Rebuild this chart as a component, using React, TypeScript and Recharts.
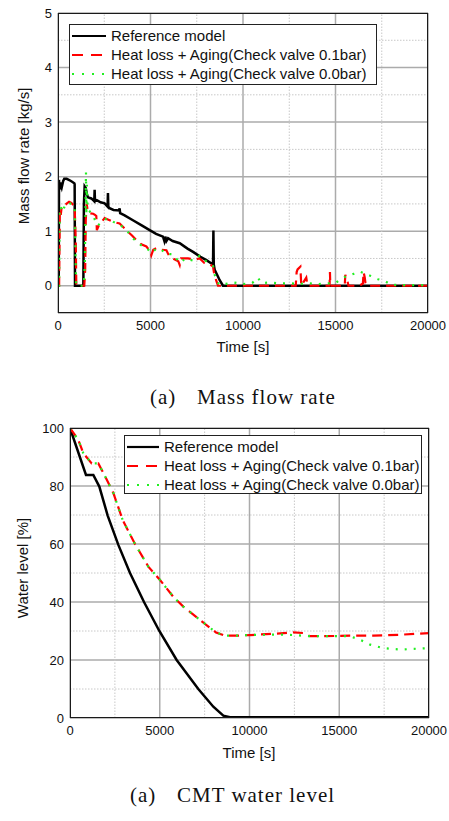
import React from "react";
import {
  LineChart,
  Line,
  XAxis,
  YAxis,
  CartesianGrid,
  ReferenceLine,
} from "recharts";

// ---- (a) Mass flow rate ----
const flowRefTime = [0, 40, 54, 80, 120, 200, 280, 340, 470, 700, 881, 900, 919, 1370, 1400, 1440, 1500, 1560, 1620, 1800, 1960, 1980, 2000, 2100, 2300, 2520, 2680, 2700, 2720, 2790, 3000, 3300, 3330, 3360, 3600, 4050, 4500, 4955, 5300, 5675, 5750, 5800, 5860, 5950, 6200, 6580, 7000, 7300, 7700, 8020, 8380, 8400, 8420, 8470, 8600, 8740, 8920, 20000];
const flowRefValue = [0, 0, 1.94, 1.76, 1.89, 1.8, 1.92, 1.96, 1.96, 1.92, 1.88, 1.86, 0, 0, 1.5, 1.82, 1.79, 1.68, 1.62, 1.6, 1.55, 1.76, 1.55, 1.57, 1.53, 1.51, 1.45, 1.7, 1.45, 1.42, 1.39, 1.38, 1.42, 1.33, 1.29, 1.2, 1.11, 1.02, 0.95, 0.9, 0.82, 0.9, 0.82, 0.87, 0.82, 0.78, 0.68, 0.62, 0.53, 0.47, 0.39, 1.01, 0.39, 0.29, 0.2, 0.1, 0, 0];

const flowCv01Time = [0, 60, 100, 150, 200, 300, 450, 600, 720, 850, 900, 960, 990, 1420, 1470, 1500, 1550, 1620, 1710, 1900, 2000, 2070, 2100, 2200, 2520, 2790, 3000, 3330, 3690, 4000, 4230, 4500, 4775, 5000, 5045, 5150, 5315, 5600, 5860, 6000, 6200, 6500, 6580, 6650, 7030, 7400, 7660, 7900, 8200, 8380, 8450, 8550, 8650, 12850, 12900, 12950, 13100, 13150, 13420, 13470, 13500, 14680, 14700, 14720, 15500, 15530, 15650, 15700, 16300, 16480, 16520, 16580, 16620, 16700, 20000];
const flowCv01Value = [0, 0, 1.4, 1.3, 1.45, 1.45, 1.5, 1.54, 1.52, 1.47, 1.45, 0.8, 0, 0, 0.3, 1.2, 1.5, 1.35, 1.33, 1.32, 1.3, 1.28, 1.02, 1.1, 1.24, 1.2, 1.17, 1.14, 1.02, 0.92, 0.84, 0.76, 0.72, 0.62, 0.56, 0.66, 0.69, 0.66, 0.65, 0.55, 0.5, 0.45, 0.38, 0.5, 0.5, 0.48, 0.5, 0.42, 0.4, 0.35, 0.2, 0.1, 0, 0, 0.25, 0.3, 0.35, 0, 0.15, 0.04, 0, 0, 0.25, 0, 0, 0.2, 0.08, 0, 0, 0.04, 0.25, 0.15, 0.05, 0, 0];

const flowCv00Time = [0, 60, 90, 150, 250, 400, 600, 800, 900, 980, 1400, 1450, 1513, 1530, 1560, 1600, 1700, 1900, 2070, 2150, 2520, 2790, 3000, 3330, 3690, 4000, 4230, 4500, 4775, 5045, 5315, 5600, 5860, 6200, 6580, 6900, 7300, 7660, 8000, 8380, 8450, 8550, 8700, 9000, 9500, 10000, 10500, 10800, 11000, 11500, 12000, 12500, 13000, 13500, 14000, 14500, 15000, 15400, 15700, 16000, 16300, 16600, 16900, 17300, 17700, 18000, 18500, 20000];
const flowCv00Value = [0, 0, 1.4, 1.45, 1.35, 1.5, 1.52, 1.48, 1.45, 0, 0, 0.4, 2.08, 1.3, 1.85, 1.4, 1.37, 1.28, 1.15, 1.1, 1.22, 1.22, 1.17, 1.12, 1.03, 0.88, 0.82, 0.74, 0.7, 0.6, 0.68, 0.66, 0.58, 0.58, 0.42, 0.5, 0.46, 0.55, 0.45, 0.36, 0.22, 0.12, 0.02, 0.03, 0.06, 0.03, 0.05, 0.15, 0.05, 0.06, 0.04, 0.05, 0.03, 0.05, 0.03, 0.04, 0.05, 0.15, 0.18, 0.22, 0.26, 0.22, 0.18, 0.12, 0.08, 0.02, 0.01, 0.01];

// ---- (a) CMT water level ----
const levelRefTime = [0, 891, 1300, 1634, 2099, 2693, 3343, 4123, 4977, 5942, 7148, 7985, 8542, 8913, 20000];
const levelRefValue = [100, 83.8, 83.8, 79.8, 69.8, 59.7, 50, 40, 30, 20, 10, 3.9, 0.8, 0.3, 0.3];

const levelCv01Time = [0, 464, 743, 1208, 1578, 1857, 2414, 2934, 3621, 4364, 5014, 5757, 6314, 7243, 8134, 8635, 9280, 10028, 11513, 12442, 13000, 13371, 14114, 15600, 16900, 18385, 20000];
const levelCv01Value = [100, 95.9, 91.3, 87.8, 87.8, 84.5, 77.6, 68.3, 60, 52.2, 47.6, 41.8, 38.4, 33.8, 29.5, 28.4, 28.4, 28.6, 29.1, 29.5, 29.3, 28.2, 28.2, 28.4, 28.4, 28.7, 29.3];

const levelCv00Time = [0, 464, 743, 1208, 1578, 1857, 2414, 2934, 3621, 4364, 5014, 5757, 6314, 7243, 8134, 8635, 9280, 10028, 11513, 12442, 13371, 14114, 15600, 16157, 16714, 17457, 18385, 20000];
const levelCv00Value = [100, 95.9, 91.3, 87.8, 87.8, 84.5, 77.6, 68.3, 60, 52.2, 47.6, 41.8, 38.4, 33.8, 29.5, 28.4, 28.4, 28.6, 28.8, 28.6, 28.2, 28.2, 28.2, 27, 25.3, 24.1, 23.6, 24.1];

const timeTicks = [0, 5000, 10000, 15000, 20000];
const timeMinor = [2500, 7500, 12500, 17500];
const flowTicks = [0, 1, 2, 3, 4, 5];
const flowMinor = [0.5, 1.5, 2.5, 3.5, 4.5];
const levelTicks = [0, 20, 40, 60, 80, 100];
const levelMinor = [10, 30, 50, 70, 90];

const seriesNames = [
  "Reference model",
  "Heat loss + Aging(Check valve 0.1bar)",
  "Heat loss + Aging(Check valve 0.0bar)",
];

const zip = (t: number[], v: number[]) => t.map((x, i) => ({ t: x, v: v[i] }));

const SANS = "'Liberation Sans', Arial, sans-serif";
const SERIF = "'Liberation Serif', 'Times New Roman', serif";
const RED = "#ff0000";
const GREEN = "#22ee22";

const styles = [
  { stroke: "#000000", dash: undefined as string | undefined, width: 2.5, legendDash: undefined as string | undefined },
  { stroke: RED, dash: "10 6", width: 2.2, legendDash: "11 8" },
  { stroke: GREEN, dash: "2 7", width: 2.2, legendDash: "2 8" },
];

const LegendBox: React.FC<{ left: number; top: number; width: number; height: number; sample: number }> = ({
  left,
  top,
  width,
  height,
  sample,
}) => (
  <div
    style={{
      position: "absolute",
      left,
      top,
      width,
      height,
      boxSizing: "border-box",
      border: "1px solid #222",
      background: "#fff",
      fontFamily: SANS,
      fontSize: 15,
      paddingTop: 1,
      color: "#111",
    }}
  >
    {seriesNames.map((name, i) => (
      <div key={name} style={{ display: "flex", alignItems: "center", height: 19, whiteSpace: "nowrap" }}>
        <svg width={sample + 8} height={10} style={{ marginLeft: 2 }}>
          <line
            x1={0}
            x2={sample}
            y1={5}
            y2={5}
            stroke={styles[i].stroke}
            strokeWidth={2.2}
            strokeDasharray={styles[i].legendDash}
          />
        </svg>
        <span style={{ marginLeft: -3 }}>{name}</span>
      </div>
    ))}
  </div>
);

interface PanelProps {
  top: number;
  height: number;
  plotLeft: number;
  plotTop: number;
  plotRight: number;
  plotBottom: number;
  yDomain: [number, number];
  yTicks: number[];
  yMinor: number[];
  series: { t: number; v: number }[][];
}

const Panel: React.FC<PanelProps> = ({ top, height, plotLeft, plotTop, plotRight, plotBottom, yDomain, yTicks, yMinor, series }) => (
  <div style={{ position: "absolute", left: 0, top }}>
    <LineChart width={449} height={height} margin={{ top: plotTop, right: plotRight, bottom: 0, left: 0 }}>
      <CartesianGrid stroke="#ababab" strokeWidth={1.5} />
      {timeMinor.map((x) => (
        <ReferenceLine key={"x" + x} x={x} stroke="#c8c8c8" strokeDasharray="1.5 1.5" />
      ))}
      {yMinor.map((y) => (
        <ReferenceLine key={"y" + y} y={y} stroke="#c8c8c8" strokeDasharray="1.5 1.5" />
      ))}
      <XAxis
        type="number"
        dataKey="t"
        domain={[0, 20000]}
        ticks={timeTicks}
        interval={0}
        height={plotBottom}
        tickLine={false}
        axisLine={false}
        allowDataOverflow
        tick={{ fontSize: 13, fill: "#111", fontFamily: SANS }}
      />
      <YAxis
        type="number"
        domain={yDomain}
        ticks={yTicks}
        interval={0}
        width={plotLeft}
        tickLine={false}
        axisLine={false}
        tickMargin={0}
        allowDataOverflow
        tick={{ fontSize: 13, fill: "#111", fontFamily: SANS }}
      />
      {series.map((d, i) => (
        <Line
          key={i}
          data={d}
          dataKey="v"
          type="linear"
          stroke={styles[i].stroke}
          strokeWidth={styles[i].width}
          strokeDasharray={styles[i].dash}
          dot={false}
          isAnimationActive={false}
        />
      ))}
    </LineChart>
    <div
      style={{
        position: "absolute",
        left: plotLeft,
        top: plotTop,
        width: 449 - plotLeft - plotRight,
        height: height - plotTop - plotBottom,
        boxSizing: "border-box",
        border: "1.5px solid #1a1a1a",
        pointerEvents: "none",
      }}
    />
  </div>
);

const Caption: React.FC<{ top: number; left: number; text: string }> = ({ top, left, text }) => (
  <div
    style={{
      position: "absolute",
      top,
      left: 0,
      width: 449,
      fontFamily: SERIF,
      fontSize: 21,
      letterSpacing: 1,
      whiteSpace: "nowrap",
      color: "#111",
    }}
  >
    <span style={{ position: "absolute", left }}>(a)</span>
    <span style={{ position: "absolute", left: left + 47 }}>{text}</span>
  </div>
);

const AxisTitle: React.FC<{ x: number; y: number; text: string; vertical?: boolean }> = ({ x, y, text, vertical }) => (
  <div
    style={{
      position: "absolute",
      left: x,
      top: y,
      fontFamily: SANS,
      fontSize: 15,
      whiteSpace: "nowrap",
      color: "#111",
      transform: vertical ? "translate(-50%, -50%) rotate(-90deg)" : "translate(-50%, -50%)",
    }}
  >
    {text}
  </div>
);

export default function App() {
  return (
    <div style={{ position: "absolute", left: 0, top: 0, width: 449, height: 821, background: "#fff", overflow: "hidden" }}>
      <Panel
        top={0}
        height={360}
        plotLeft={58}
        plotTop={13}
        plotRight={21}
        plotBottom={47}
        yDomain={[-0.5, 5]}
        yTicks={flowTicks}
        yMinor={flowMinor}
        series={[zip(flowRefTime, flowRefValue), zip(flowCv01Time, flowCv01Value), zip(flowCv00Time, flowCv00Value)]}
      />
      <LegendBox left={69} top={24} width={308} height={61} sample={34} />
      <AxisTitle x={23} y={156} text="Mass flow rate [kg/s]" vertical />
      <AxisTitle x={243} y={346} text="Time [s]" />
      <Caption top={385} left={150} text="Mass flow rate" />

      <Panel
        top={415}
        height={345}
        plotLeft={70}
        plotTop={13}
        plotRight={20}
        plotBottom={42}
        yDomain={[0, 100]}
        yTicks={levelTicks}
        yMinor={levelMinor}
        series={[zip(levelRefTime, levelRefValue), zip(levelCv01Time, levelCv01Value), zip(levelCv00Time, levelCv00Value)]}
      />
      <LegendBox left={124} top={435} width={298} height={59} sample={32} />
      <AxisTitle x={22} y={568} text="Water level [%]" vertical />
      <AxisTitle x={249} y={752} text="Time [s]" />
      <Caption top={783} left={130} text="CMT water level" />
    </div>
  );
}
